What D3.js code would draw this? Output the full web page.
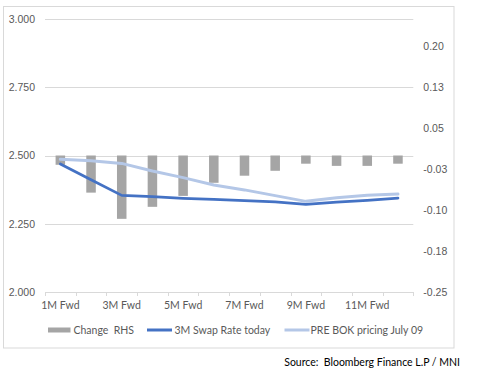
<!DOCTYPE html>
<html><head><meta charset="utf-8">
<script src="https://cdn.jsdelivr.net/npm/d3@7"></script>
<style>
html,body{margin:0;padding:0;background:#fff;}
svg{display:block;font-family:Lato, "Liberation Sans", sans-serif;}
svg text{white-space:pre;}
</style></head>
<body><svg id="c" width="478" height="381"></svg>
<script>
const categories = ["1M Fwd","2M Fwd","3M Fwd","4M Fwd","5M Fwd","6M Fwd","7M Fwd","8M Fwd","9M Fwd","10M Fwd","11M Fwd","12M Fwd"];
const changeRHS = [-0.017,-0.068,-0.116,-0.094,-0.074,-0.050,-0.037,-0.028,-0.015,-0.019,-0.019,-0.015];
const swapToday = [2.469,2.411,2.354,2.349,2.343,2.339,2.335,2.330,2.321,2.329,2.336,2.344];
const preBOK    = [2.486,2.481,2.471,2.443,2.419,2.392,2.374,2.353,2.332,2.345,2.354,2.359];
const leftTicks = [2.0,2.25,2.5,2.75,3.0];
const leftTickLabels = ["2.000","2.250","2.500","2.750","3.000"];
const rightTicks = [-0.25,-0.175,-0.1,-0.025,0.05,0.125,0.2];
const rightTickLabels = ["-0.25","-0.18","-0.10","-0.03","0.05","0.13","0.20"];
const seriesNames = ["Change  RHS","3M Swap Rate today","PRE BOK pricing July 09"];
const sourceText = "Source:  Bloomberg Finance L.P / MNI";

const svg = d3.select("#c");
const X0 = 45, X1 = 413.3, YT = 19, YB = 292;
const textCol = "#595959", gridCol = "#D9D9D9";

svg.append("rect").attr("x",3.5).attr("y",6.5).attr("width",450.5).attr("height",341.5)
  .attr("fill","#fff").attr("stroke","#D9D9D9").attr("stroke-width",1);

const x = d3.scaleBand().domain(categories).range([X0,X1]).paddingInner(0.69).paddingOuter(0.345);
const yL = d3.scaleLinear().domain([2.0,3.0]).range([YB,YT]);
const yR = d3.scaleLinear().domain([-0.25,0.25]).range([YB,YT]);
const cx = c => x(c) + x.bandwidth()/2;

// gridlines
svg.append("g").selectAll("line").data(leftTicks.filter(d=>d>2)).join("line")
  .attr("x1",X0).attr("x2",X1).attr("y1",d=>Math.round(yL(d))+0.5).attr("y2",d=>Math.round(yL(d))+0.5)
  .attr("stroke",gridCol).attr("stroke-width",1);

// left axis
const gL = svg.append("g").attr("transform",`translate(${X0-8},0)`)
  .call(d3.axisLeft(yL).tickValues(leftTicks).tickFormat((d,i)=>leftTickLabels[i]).tickSize(0).tickPadding(2));
gL.select(".domain").remove();
gL.selectAll("text").attr("fill",textCol).attr("font-size","10.5px");

// right axis
const gR = svg.append("g").attr("transform",`translate(${X1+10},0)`)
  .call(d3.axisRight(yR).tickValues(rightTicks).tickFormat((d,i)=>rightTickLabels[i]).tickSize(0).tickPadding(0));
gR.select(".domain").remove();
gR.selectAll("text").attr("fill",textCol).attr("font-size","10.5px");

// bars
svg.append("g").selectAll("rect").data(changeRHS).join("rect")
  .attr("x",(d,i)=>x(categories[i])).attr("width",x.bandwidth())
  .attr("y",d=>yR(Math.max(0,d))).attr("height",d=>Math.abs(yR(d)-yR(0)))
  .attr("fill","#A5A5A5");

// bottom axis
const step = x.step();
const bx = svg.append("g");
bx.append("line").attr("x1",X0).attr("x2",X1).attr("y1",YB+0.5).attr("y2",YB+0.5).attr("stroke",gridCol);
bx.selectAll("line.t").data(d3.range(categories.length+1)).join("line").attr("class","t")
  .attr("x1",i=>Math.round(X0+i*step)+0.5).attr("x2",i=>Math.round(X0+i*step)+0.5)
  .attr("y1",YB).attr("y2",YB+4).attr("stroke",gridCol);
bx.selectAll("text").data(categories.filter((c,i)=>i%2===0)).join("text")
  .attr("x",c=>cx(c)).attr("y",YB+17).attr("text-anchor","middle")
  .attr("fill",textCol).attr("font-size","10.5px").text(c=>c);

// lines
const line = d3.line().x((d,i)=>cx(categories[i])).y(d=>yL(d));
svg.append("path").datum(preBOK).attr("d",line).attr("fill","none")
  .attr("stroke","#B4C7E7").attr("stroke-width",3).attr("stroke-linejoin","round").attr("stroke-linecap","round");
svg.append("path").datum(swapToday).attr("d",line).attr("fill","none")
  .attr("stroke","#4472C4").attr("stroke-width",2.75).attr("stroke-linejoin","round").attr("stroke-linecap","round");

// legend
const LY = 330;
const lg = svg.append("g").attr("font-size","10.5px").attr("fill",textCol);
lg.append("rect").attr("x",48).attr("y",LY-2.5).attr("width",22.5).attr("height",5).attr("fill","#A5A5A5");
lg.append("text").attr("x",73.5).attr("y",LY).attr("dy","0.35em").attr("fill",textCol).text(seriesNames[0]);
lg.append("line").attr("x1",147).attr("x2",172).attr("y1",LY).attr("y2",LY).attr("stroke","#4472C4").attr("stroke-width",3);
lg.append("text").attr("x",174.5).attr("y",LY).attr("dy","0.35em").attr("fill",textCol).text(seriesNames[1]);
lg.append("line").attr("x1",284.5).attr("x2",309.5).attr("y1",LY).attr("y2",LY).attr("stroke","#B4C7E7").attr("stroke-width",3);
lg.append("text").attr("x",310.5).attr("y",LY).attr("dy","0.35em").attr("fill",textCol).text(seriesNames[2]);

// source
svg.append("text").attr("x",460).attr("y",362).attr("dy","0.35em").attr("text-anchor","end")
  .attr("font-size","10.5px").attr("fill","#000").text(sourceText);
</script></body></html>
